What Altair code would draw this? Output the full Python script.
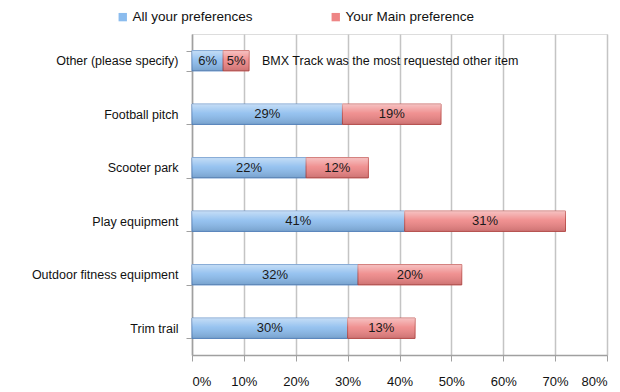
import altair as alt
import pandas as pd

categories = ["Other (please specify)", "Football pitch", "Scooter park",
              "Play equipment", "Outdoor fitness equipment", "Trim trail"]
all_prefs = [6, 29, 22, 41, 32, 30]
main_pref = [5, 19, 12, 31, 20, 13]
series = ["All your preferences", "Your Main preference"]
x_ticks = [0, 0.1, 0.2, 0.3, 0.4, 0.5, 0.6, 0.7, 0.8]
note_text = "BMX Track was the most requested other item"
note_cat = "Other (please specify)"
note_x = 0.135

FONT = "Liberation Sans"

rows = []
for c, a, m in zip(categories, all_prefs, main_pref):
    rows.append(dict(cat=c, series=series[0], start=0, end=a / 100, mid=a / 200, label=f"{a}%"))
    rows.append(dict(cat=c, series=series[1], start=a / 100, end=(a + m) / 100,
                     mid=(a + m / 2) / 100, label=f"{m}%"))
df = pd.DataFrame(rows)
tot = pd.DataFrame(dict(cat=categories, total=[(a + m) / 100 for a, m in zip(all_prefs, main_pref)]))
note = pd.DataFrame(dict(cat=[note_cat], x=[note_x], text=[note_text]))

yscale = alt.Scale(domain=categories, paddingInner=0.62, paddingOuter=0.31)
xscale = alt.Scale(domain=[0, 0.8], nice=False)

y_enc = alt.Y("cat:N", sort=categories, scale=yscale, title=None,
              axis=alt.Axis(grid=False, ticks=True, tickBand="extent", tickSize=6,
                            tickColor="#a0a0a0", domainColor="#a0a0a0", domainWidth=1.5,
                            labelPadding=8, labelFontSize=12.5, labelFont=FONT,
                            labelColor="#111111"))

bars = alt.Chart(df).mark_bar(strokeWidth=1).encode(
    y=y_enc,
    x=alt.X("start:Q", scale=xscale, title=None,
            axis=alt.Axis(values=x_ticks, format="%", grid=True, gridColor="#c4c4c4",
                          gridWidth=1.5, domainColor="#a0a0a0", domainWidth=1.5,
                          tickColor="#a0a0a0", tickSize=6, labelPadding=14,
                          labelFontSize=13, labelFont=FONT, labelColor="#111111")),
    x2="end:Q",
    color=alt.Color("series:N", scale=alt.Scale(domain=series, range=["#8bbcee", "#ee8585"]),
                    legend=alt.Legend(title=None, orient="none", direction="horizontal",
                                      legendX=-76, legendY=-24, symbolType="square",
                                      symbolSize=70, symbolStrokeWidth=0,
                                      labelFontSize=13.5, labelFont=FONT, labelColor="#111111",
                                      columnPadding=76, labelOffset=3)),
    stroke=alt.Stroke("series:N", scale=alt.Scale(domain=series, range=["#5a8ac6", "#c0504d"]),
                      legend=None),
)

shine = alt.Chart(tot).mark_bar(
    strokeWidth=0,
    fill=alt.Gradient(gradient="linear", x1=0, x2=0, y1=0, y2=1,
                      stops=[alt.GradientStop(color="rgba(255,255,255,0.5)", offset=0),
                             alt.GradientStop(color="rgba(255,255,255,0.1)", offset=0.45),
                             alt.GradientStop(color="rgba(0,0,0,0.14)", offset=1)])
).encode(y=alt.Y("cat:N", sort=categories, scale=yscale), x=alt.X("total:Q", scale=xscale))

labels = alt.Chart(df).mark_text(fontSize=13, font=FONT, color="#1a1a1a").encode(
    y=alt.Y("cat:N", sort=categories, scale=yscale),
    x=alt.X("mid:Q", scale=xscale),
    text="label:N",
)

annot = alt.Chart(note).mark_text(fontSize=12.5, font=FONT, color="#111111", align="left").encode(
    y=alt.Y("cat:N", sort=categories, scale=yscale),
    x=alt.X("x:Q", scale=xscale),
    text="text:N",
)

chart = alt.layer(bars, shine, labels, annot).properties(
    width=415, height=321,
    autosize=alt.AutoSizeParams(type="none"),
    padding={"left": 184, "top": 26, "right": 5, "bottom": 40},
).configure_view(stroke=None).configure(background="white")

chart.save("out.html", embed_options={"renderer": "svg", "actions": False})
